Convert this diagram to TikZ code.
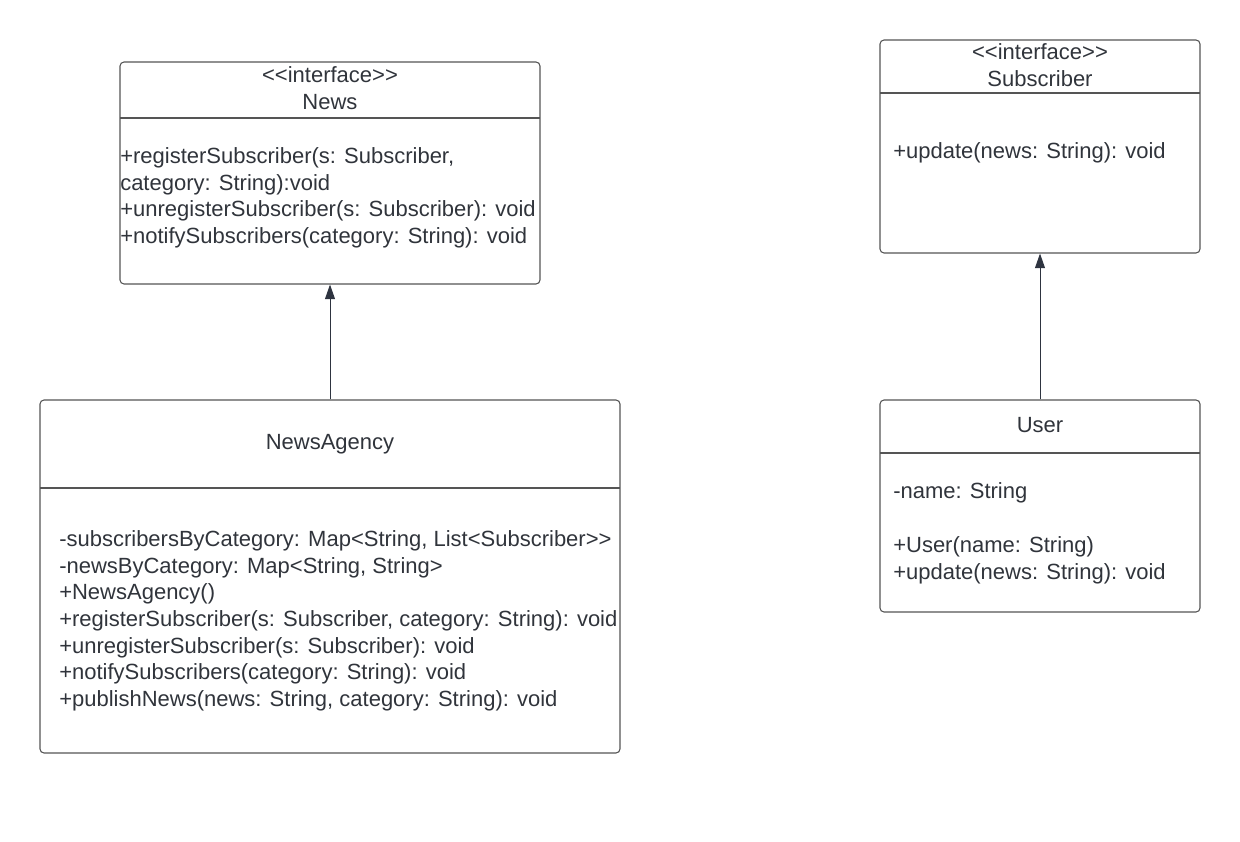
\documentclass[tikz,border=0pt]{standalone}
\usepackage{fontspec}
\setmainfont{Liberation Sans}
\usetikzlibrary{arrows.meta,fit}
\definecolor{boxline}{HTML}{555555}
\definecolor{txt}{HTML}{30343B}
\definecolor{arr}{HTML}{2E3440}
\tikzset{
  classbox/.style={draw=boxline, line width=0.8pt, rounded corners=3pt, inner sep=0pt, fill=none},
  divider/.style={draw=boxline, line width=0.8pt},
  lbl/.style={text=txt, inner sep=0pt, yshift=-3.6pt, font=\fontsize{16.5pt}{20pt}\selectfont},
  lleft/.style={lbl, anchor=mid west},
  lmid/.style={lbl, anchor=mid},
  inherit/.style={draw=arr, line width=0.75pt, -{Triangle[width=7.5pt,length=11pt]}, fill=arr},
}
\begin{document}
\begin{tikzpicture}[x=0.75pt,y=-0.75pt]
\useasboundingbox (0,0) rectangle (1240,842);
% News interface
\node[classbox, fit={(120,62)(540,284)}] (news) {};
\draw[divider] (120,118) -- (540,118);
\node[lmid] (newsst) at (330,74) {<{}<interface>{}>};
\node[lmid] (newsname) at (330,101) {News};
\node[lleft] (newsm1) at (120,155) {+registerSubscriber(s: Subscriber,};
\node[lleft] (newsm2) at (120,181.7) {category: String):void};
\node[lleft] (newsm3) at (120,208.4) {+unregisterSubscriber(s: Subscriber): void};
\node[lleft] (newsm4) at (120,235.1) {+notifySubscribers(category: String): void};
% NewsAgency
\node[classbox, fit={(40,400)(620,753)}] (agency) {};
\draw[divider] (40,488) -- (620,488);
\node[lmid] (agencyname) at (330,441) {NewsAgency};
\node[lleft] (ag1) at (59,538) {-subscribersByCategory: Map<String, List<Subscriber>{}>};
\node[lleft] (ag2) at (59,564.7) {-newsByCategory: Map<String, String>};
\node[lleft] (ag3) at (59,591.4) {+NewsAgency()};
\node[lleft] (ag4) at (59,618.1) {+registerSubscriber(s: Subscriber, category: String): void};
\node[lleft] (ag5) at (59,644.8) {+unregisterSubscriber(s: Subscriber): void};
\node[lleft] (ag6) at (59,671.5) {+notifySubscribers(category: String): void};
\node[lleft] (ag7) at (59,698.2) {+publishNews(news: String, category: String): void};
% Subscriber interface
\node[classbox, fit={(880,40)(1200,253)}] (subscriber) {};
\draw[divider] (880,93) -- (1200,93);
\node[lmid] (subst) at (1040,51) {<{}<interface>{}>};
\node[lmid] (subname) at (1040,78) {Subscriber};
\node[lleft] (subm1) at (893,150) {+update(news: String): void};
% User
\node[classbox, fit={(880,400)(1200,612)}] (user) {};
\draw[divider] (880,453) -- (1200,453);
\node[lmid] (username) at (1040,424) {User};
\node[lleft] (user1) at (893,490) {-name: String};
\node[lleft] (user2) at (893,544) {+User(name: String)};
\node[lleft] (user3) at (893,571) {+update(news: String): void};
% connectors
\draw[inherit] (agency.north) -- (news.south);
\draw[inherit] (user.north) -- (subscriber.south);
\end{tikzpicture}
\end{document}
